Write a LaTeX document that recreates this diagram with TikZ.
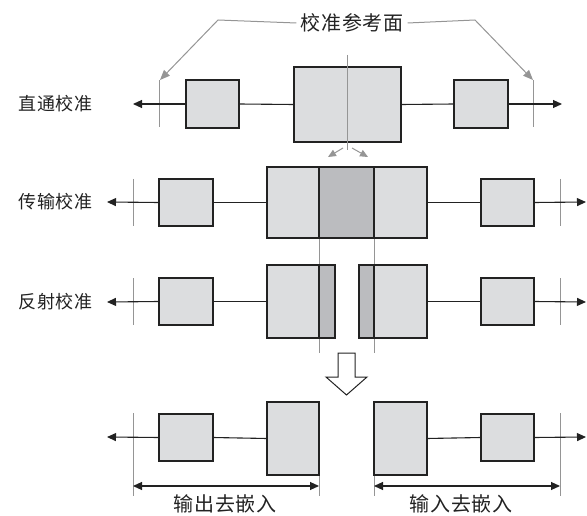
\documentclass[tikz,border=0pt]{standalone}
\usepackage{fontspec}
\newfontfamily\cjk{Noto Sans CJK SC}
\usetikzlibrary{arrows.meta}
\definecolor{boxlight}{HTML}{DCDDDF}
\definecolor{boxdark}{HTML}{BBBCBF}
\definecolor{refgray}{HTML}{959595}
\definecolor{ink}{HTML}{222222}
\newcommand{\cgap}{\hspace{0.7pt}}
\newcommand{\lgap}{\hspace{0.8pt}}
\begin{document}
\begin{tikzpicture}[x=1pt,y=-1pt,
  box/.style={draw=ink,line width=1.3pt,fill=boxlight,inner sep=0pt,outer sep=0pt},
  dbox/.style={box,fill=boxdark},
  sig/.style={draw=ink,line width=1.1pt},
  sigarrow/.style={sig,-{Triangle[length=9pt,width=8pt]}},
  dimarrow/.style={draw=ink,line width=1.1pt,{Triangle[length=9pt,width=8pt]}-{Triangle[length=9pt,width=8pt]}},
  refline/.style={draw=refgray,line width=1pt},
  leader/.style={draw=refgray,line width=1pt,-{Triangle[length=10pt,width=8pt]}},
  lbl/.style={font=\cjk\fontsize{18pt}{18pt}\selectfont,inner sep=0pt,text=ink},
  biglbl/.style={font=\cjk\fontsize{20pt}{20pt}\selectfont,inner sep=0pt,text=ink},
  hollow/.style={draw=ink,line width=1pt,fill=white}]
\useasboundingbox (0,0) rectangle (587,516);

% ---------- labels ----------
\node[lbl,anchor=east] (t1) at (93,104) {直\lgap 通\lgap 校\lgap 准};
\node[lbl,anchor=east] (t2) at (93,202) {传\lgap 输\lgap 校\lgap 准};
\node[lbl,anchor=east] (t3) at (93,302) {反\lgap 射\lgap 校\lgap 准};
\node[biglbl] (top) at (352,23) {校\cgap 准\cgap 参\cgap 考\cgap 面};
\node[biglbl] (out) at (225,504) {输\cgap 出\cgap 去\cgap 嵌\cgap 入};
\node[biglbl] (in) at (461,504) {输\cgap 入\cgap 去\cgap 嵌\cgap 入};

% ---------- coordinates ----------
\coordinate (r1L) at (133,104);
\coordinate (r1R) at (562,104);
\coordinate (r2L) at (107,202);
\coordinate (r2R) at (586,202);
\coordinate (r3L) at (107,302);
\coordinate (r3R) at (586,302);
\coordinate (r4L) at (107,437);
\coordinate (r4R) at (586,437);

% ---------- reference lines (behind) ----------
\draw[refline] (159,80) -- (159,127);
\draw[refline] (533,80) -- (533,127);
\draw[refline] (133,179) -- (133,226);
\draw[refline] (560,179) -- (560,226);
\draw[refline] (133,278) -- (133,325);
\draw[refline] (560,278) -- (560,325);
\draw[refline] (133,413) -- (133,496);
\draw[refline] (560,413) -- (560,496);
\draw[refline] (319,238) -- (319,353);
\draw[refline] (374,238) -- (374,353);
\draw[refline] (319,475) -- (319,496);
\draw[refline] (374,475) -- (374,496);

% ---------- row 1 : thru ----------
\node[box,minimum width=53pt,minimum height=48pt] (a1) at (212.5,104) {};
\node[box,minimum width=107pt,minimum height=75pt] (a2) at (347.5,104.5) {};
\node[box,minimum width=54pt,minimum height=48pt] (a3) at (481,104) {};
\draw[sigarrow] (a1.west) -- (r1L);
\draw[sig] (a1.east) -- (a2.west);
\draw[sig] (a2.east) -- (a3.west);
\draw[sigarrow] (a3.east) -- (r1R);
\draw[refline] (347,55) -- (347,150);

% ---------- row 2 : line ----------
\node[box,minimum width=54pt,minimum height=47pt] (b1) at (186,202.5) {};
\node[box,minimum width=52pt,minimum height=71pt] (b2) at (293,202.5) {};
\node[dbox,minimum width=55pt,minimum height=71pt] (b3) at (346.5,202.5) {};
\node[box,minimum width=53pt,minimum height=71pt] (b4) at (400.5,202.5) {};
\node[box,minimum width=53pt,minimum height=47pt] (b5) at (507.5,202.5) {};
\draw[sigarrow] (b1.west) -- (r2L);
\draw[sig] (b1.east) -- (b2.west);
\draw[sig] (b4.east) -- (b5.west);
\draw[sigarrow] (b5.east) -- (r2R);

% ---------- row 3 : reflect ----------
\node[box,minimum width=54pt,minimum height=47pt] (c1) at (186,301.5) {};
\node[box,minimum width=52pt,minimum height=73pt] (c2) at (293,301.5) {};
\node[dbox,minimum width=16pt,minimum height=73pt] (c3) at (327,301.5) {};
\node[dbox,minimum width=15pt,minimum height=73pt] (c4) at (366.5,301.5) {};
\node[box,minimum width=53pt,minimum height=73pt] (c5) at (400.5,301.5) {};
\node[box,minimum width=53pt,minimum height=47pt] (c6) at (507.5,301.5) {};
\draw[sigarrow] (c1.west) -- (r3L);
\draw[sig] (c1.east) -- (c2.west);
\draw[sig] (c5.east) -- (c6.west);
\draw[sigarrow] (c6.east) -- (r3R);

% ---------- hollow arrow ----------
\draw[hollow] (338,353) -- (338,377) -- (326,377) -- (346.5,395) -- (367,377) -- (355,377) -- (355,353) -- cycle;

% ---------- row 4 : de-embedding ----------
\node[box,minimum width=54pt,minimum height=47pt] (d1) at (186,437.5) {};
\node[box,minimum width=52pt,minimum height=73pt] (d2) at (293,438.5) {};
\node[box,minimum width=53pt,minimum height=73pt] (d3) at (400.5,438.5) {};
\node[box,minimum width=53pt,minimum height=47pt] (d4) at (507.5,437.5) {};
\draw[sigarrow] (d1.west) -- (r4L);
\draw[sig] (d1.east) -- (d2.west);
\draw[sig] (d3.east) -- (d4.west);
\draw[sigarrow] (d4.east) -- (r4R);

\coordinate (m1) at (133,486);
\coordinate (m2) at (319,486);
\coordinate (m3) at (374,486);
\coordinate (m4) at (560,486);
\draw[dimarrow] (m1) -- (m2);
\draw[dimarrow] (m3) -- (m4);

% ---------- leaders to reference planes ----------
\coordinate (lA) at (218,20);
\coordinate (lB) at (475,20);
\coordinate (pA) at (160,80);
\coordinate (pB) at (533,80);
\draw[leader] ([xshift=-4pt]top.west) -- (lA) -- (pA);
\draw[leader] ([xshift=4pt]top.east) -- (lB) -- (pB);
\draw[refgray,line width=1pt,-{Triangle[length=8pt,width=7pt]}] (343,148) -- (328,157);
\draw[refgray,line width=1pt,-{Triangle[length=8pt,width=7pt]}] (352,148) -- (368,157);
\end{tikzpicture}
\end{document}
